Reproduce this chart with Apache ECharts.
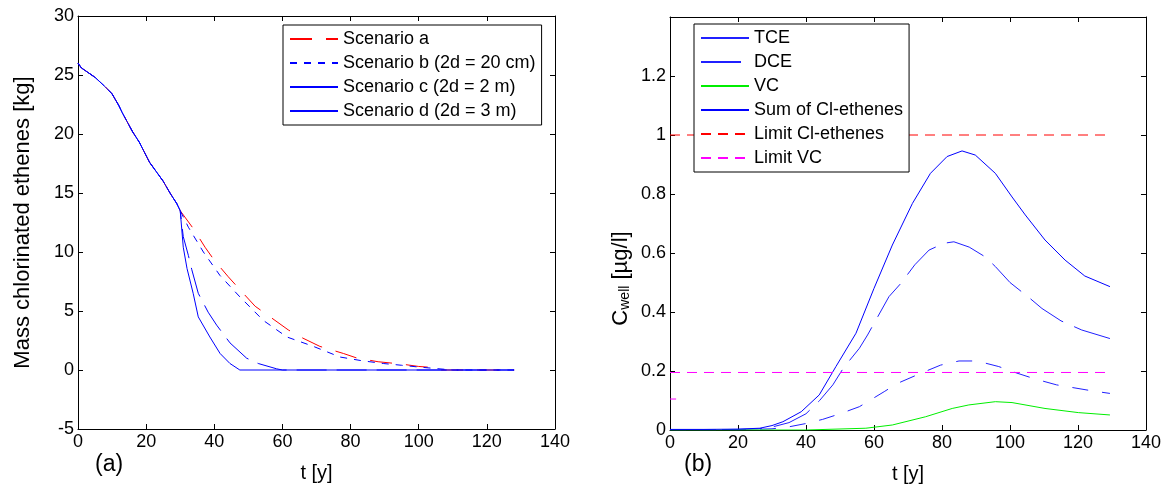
<!DOCTYPE html>
<html>
<head>
<meta charset="utf-8">
<script src="https://cdn.jsdelivr.net/npm/echarts@6/dist/echarts.min.js"></script>
<style>
html, body { margin: 0; padding: 0; background: #fff; }
#chart { width: 1164px; height: 490px; }
</style>
</head>
<body>
<div id="chart"></div>
<script>
// (a) mass of chlorinated ethenes, common part up to t = 30
var tCommon = [0, 1, 3, 5, 8, 10, 12, 13, 16, 18, 21, 23, 25, 27, 29, 30];
var vCommon = [26, 25.6, 25.2, 24.8, 24, 23.4, 22.4, 21.8, 20.2, 19.3, 17.6, 16.8, 16, 15, 14.1, 13.5];

var tScenA = [33.8, 37.3, 40, 44.1, 48.5, 52, 56.4, 61.7, 66, 71, 77.9, 82, 88.1, 95, 100, 104.8, 106, 128];
var vScenA = [12.0, 10.4, 9.3, 7.9, 6.5, 5.4, 4.5, 3.4, 2.7, 2.0, 1.4, 1.0, 0.7, 0.5, 0.3, 0.2, 0, 0];

var tScenB = [32.4, 36.8, 41.7, 47.5, 54.4, 61.3, 69.1, 76.9, 83, 89.6, 95, 100, 104, 110, 128];
var vScenB = [12.1, 10.0, 8.0, 6.2, 4.2, 2.8, 2.0, 1.1, 0.8, 0.55, 0.4, 0.25, 0.15, 0, 0];

var tScenC = [30.9, 32.4, 33.4, 35.3, 38.2, 40.7, 44.6, 49.5, 52.9, 58.3, 60, 128];
var vScenC = [11.3, 9.7, 8.5, 6.5, 4.9, 3.8, 2.3, 1.0, 0.55, 0.1, 0, 0];

var tScenD = [30.9, 32, 33.8, 35.3, 38.7, 41.7, 44.6, 47.5, 128];
var vScenD = [10.4, 8.6, 6.5, 4.5, 2.8, 1.4, 0.55, 0, 0];

// (b) concentrations in the well
var tSum = [0, 10, 20, 26.4, 30, 33.2, 38.6, 43.9, 48.8, 54.7, 60, 65.4, 71.3, 76.6, 81.5, 85.9, 89.8, 95.7, 100.6, 104.5, 110.3, 116.2, 122, 129.4];
var vSum = [0.002, 0.002, 0.003, 0.006, 0.015, 0.028, 0.062, 0.119, 0.215, 0.328, 0.48, 0.627, 0.768, 0.87, 0.927, 0.946, 0.932, 0.87, 0.79, 0.729, 0.644, 0.576, 0.522, 0.486];

var tDCE = [0, 10, 20, 26, 30, 35, 40, 44, 47.9, 51, 55.7, 58.1, 64.4, 67.9, 72, 76.2, 80.6, 83.5, 88, 92.7, 95.7, 100, 105.9, 109.4, 115, 121.1, 129.4];
var vDCE = [0.001, 0.001, 0.002, 0.004, 0.01, 0.025, 0.055, 0.1, 0.153, 0.21, 0.277, 0.322, 0.452, 0.497, 0.56, 0.61, 0.633, 0.638, 0.62, 0.587, 0.554, 0.5, 0.446, 0.412, 0.37, 0.339, 0.31];

var tTCE = [0, 10, 20, 30, 35.1, 40, 44.9, 50, 55.7, 63, 66.9, 73.7, 79.6, 85, 90.3, 96.7, 102, 107.4, 113.7, 124, 129.4];
var vTCE = [0.001, 0.001, 0.001, 0.004, 0.011, 0.022, 0.036, 0.055, 0.079, 0.13, 0.158, 0.192, 0.22, 0.234, 0.234, 0.215, 0.193, 0.173, 0.153, 0.133, 0.124];

var tVC = [0, 20, 40, 57.6, 65.4, 75.2, 83, 87.9, 95.7, 100.6, 110.3, 120.1, 129.4];
var vVC = [0, 0, 0, 0.006, 0.017, 0.045, 0.073, 0.085, 0.096, 0.093, 0.073, 0.059, 0.051];

var tLimit = [0, 129.4];
var vLimitCl = [1, 1];
var vLimitVC = [0.195, 0.195];
var tStub = [0, 1.8];
var vStub = [0.105, 0.105];

function pairs(t, v) {
    var out = [];
    for (var i = 0; i < t.length; i++) out.push([t[i], v[i]]);
    return out;
}

var FONT = 'Liberation Sans';
var chart = echarts.init(document.getElementById('chart'));

function xAx(grid, show) {
    return {
        type: 'value', gridIndex: grid, min: 0, max: 140, interval: 20,
        position: show ? 'bottom' : 'top',
        name: show ? 't [y]' : '', nameLocation: 'middle', nameGap: 34,
        nameTextStyle: { color: '#000', fontSize: 20, fontFamily: FONT },
        axisLine: { onZero: false, lineStyle: { color: '#000', width: 1 } },
        axisTick: { inside: true, length: 5, lineStyle: { color: '#000' } },
        axisLabel: { show: show, color: '#000', fontSize: 18, fontFamily: FONT, margin: 4 },
        splitLine: { show: false }
    };
}

function yAx(grid, show, min, max, interval, name) {
    return {
        type: 'value', gridIndex: grid, min: min, max: max, interval: interval,
        position: show ? 'left' : 'right',
        name: show ? name : '', nameLocation: 'middle', nameGap: 44,
        nameTextStyle: { color: '#000', fontSize: 22, fontFamily: FONT },
        axisLine: { onZero: false, lineStyle: { color: '#000', width: 1 } },
        axisTick: { inside: true, length: 5, lineStyle: { color: '#000' } },
        axisLabel: {
            show: show, color: '#000', fontSize: 18, fontFamily: FONT, margin: 4,
            formatter: function(val) {
                if (grid == 1 && val > 1.3) return '';
                return String(Math.round(val * 10) / 10);
            }
        },
        splitLine: { show: false }
    };
}

function line(name, x, y, data, color, dash) {
    return {
        name: name, type: 'line', xAxisIndex: x, yAxisIndex: y,
        data: data, symbol: 'none', silent: true, animation: false,
        lineStyle: { color: color, width: 1, type: dash || 'solid' },
        itemStyle: { color: color }
    };
}

var yA = yAx(0, true, -5, 30, 5, 'Mass chlorinated ethenes [kg]');
var yB = yAx(1, true, 0, 1.4, 0.2, '{n|C}{s|well}{n| [µg/l]}');
yB.nameGap = 38;
yB.nameTextStyle.rich = {
    n: { fontSize: 22, fontFamily: FONT, color: '#000' },
    s: { fontSize: 14, fontFamily: FONT, color: '#000', verticalAlign: 'bottom', padding: [9, 0, 0, 0] }
};
yB.nameTextStyle.padding = [0, 110, 0, 0];

var legendText = { color: '#000', fontSize: 18, fontFamily: FONT };

var option = {
    backgroundColor: '#fff',
    animation: false,
    grid: [
        { left: 78, right: 609, top: 16, bottom: 61 },
        { left: 670, right: 16, top: 17, bottom: 60 }
    ],
    xAxis: [xAx(0, true), xAx(1, true), xAx(0, false), xAx(1, false)],
    yAxis: [yA, yB,
        yAx(0, false, -5, 30, 5, ''), yAx(1, false, 0, 1.4, 0.2, '')],
    legend: [
        {
            left: 283, top: 25, orient: 'vertical',
            itemWidth: 48, itemHeight: 14, itemGap: 6,
            padding: [5, 6, 5, 6],
            borderColor: '#000', borderWidth: 1, backgroundColor: '#fff',
            itemStyle: { opacity: 0 },
            textStyle: legendText, selectedMode: false,
            data: ['Scenario a', 'Scenario b (2d = 20 cm)',
                { name: 'Scenario c (2d = 2 m)', lineStyle: { type: 'solid' } },
                'Scenario d (2d = 3 m)']
        },
        {
            left: 694, top: 24, orient: 'vertical',
            itemWidth: 48, itemHeight: 14, itemGap: 6,
            padding: [5, 6, 5, 6],
            borderColor: '#000', borderWidth: 1, backgroundColor: '#fff',
            itemStyle: { opacity: 0 },
            textStyle: legendText, selectedMode: false,
            data: [{ name: 'TCE', lineStyle: { type: 'solid' } }, 'DCE', 'VC',
                'Sum of Cl-ethenes', 'Limit Cl-ethenes', 'Limit VC']
        }
    ],
    graphic: [
        { type: 'text', left: 95, top: 453, style: { text: '(a)', fontSize: 23, fontFamily: FONT, fill: '#000' } },
        { type: 'text', left: 684, top: 453, style: { text: '(b)', fontSize: 23, fontFamily: FONT, fill: '#000' } }
    ],
    series: []
};

option.series.push(line('Scenario a', 0, 0, pairs(tCommon.concat(tScenA), vCommon.concat(vScenA)), '#ff0000', [22, 14]));
option.series.push(line('Scenario b (2d = 20 cm)', 0, 0, pairs(tCommon.concat(tScenB), vCommon.concat(vScenB)), '#0000ff', [7, 7]));
option.series.push(line('Scenario c (2d = 2 m)', 0, 0, pairs(tCommon.concat(tScenC), vCommon.concat(vScenC)), '#0000ff', [30, 10]));
option.series.push(line('Scenario d (2d = 3 m)', 0, 0, pairs(tCommon.concat(tScenD), vCommon.concat(vScenD)), '#0000ff'));

option.series.push(line('TCE', 1, 1, pairs(tTCE, vTCE), '#2020ff', [16, 14]));
option.series.push(line('DCE', 1, 1, pairs(tDCE, vDCE), '#2020ff', [40, 12]));
option.series.push(line('VC', 1, 1, pairs(tVC, vVC), '#00ee00'));
option.series.push(line('Sum of Cl-ethenes', 1, 1, pairs(tSum, vSum), '#0000ff'));
option.series.push(line('Limit Cl-ethenes', 1, 1, pairs(tLimit, vLimitCl), '#ff0000', [10, 7]));
option.series.push(line('Limit VC', 1, 1, pairs(tLimit, vLimitVC), '#ff00ff', [10, 7]));
option.series.push(line('', 1, 1, pairs(tStub, vStub), '#ff00ff'));

chart.setOption(option);
</script>
</body>
</html>
